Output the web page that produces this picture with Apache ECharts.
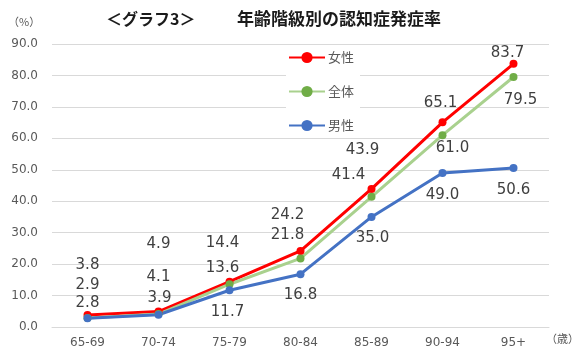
<!DOCTYPE html>
<html><head><meta charset="utf-8">
<script src="https://cdn.jsdelivr.net/npm/echarts@6/dist/echarts.min.js"></script>
<style>html,body{margin:0;padding:0;background:#fff}#c{width:583px;height:362px}</style>
</head><body><div id="c"></div>
<script>
const categories = ['65-69','70-74','75-79','80-84','85-89','90-94','95+'];
const female = [3.8, 4.9, 14.4, 24.2, 43.9, 65.1, 83.7];
const total = [2.9, 4.1, 13.6, 21.8, 41.4, 61.0, 79.5];
const male = [2.8, 3.9, 11.7, 16.8, 35.0, 49.0, 50.6];
const seriesNames = ['女性','全体','男性'];
const yTicks = [0,10,20,30,40,50,60,70,80,90];

// label offsets (styling)
const femaleOff = [[0,-50],[0,-67],[-7,-39],[-13,-36],[-9,-39],[-2,-19],[-6,-11]];
const totalOff = [[0,-33],[0,-37],[-7,-16],[-13,-23],[-23,-22],[10,13],[7,23]];
const maleOff = [[0,-15],[1,-17],[-2,22],[0,21],[1,21],[0,22],[0,22]];

const numFont = 'DejaVu Sans';
const jpFont = 'Noto Sans CJK JP';
function mk(vals, offs){
  return vals.map((v,i)=>({value:v, label:{offset:offs[i]}}));
}
function ser(name, vals, offs, lineColor, markColor){
  return {
    name, type:'line', data: mk(vals, offs),
    symbol:'circle', symbolSize:8,
    lineStyle:{color:lineColor, width:3},
    itemStyle:{color:markColor},
    label:{show:true, position:'inside', color:'#404040', fontSize:15, fontFamily:numFont,
      formatter:p=>p.value.toFixed(1)},
    z: 2
  };
}
const chart = echarts.init(document.getElementById('c'));
chart.setOption({
  animation:false,
  backgroundColor:'#fff',
  title:[
    {text:'＜グラフ3＞', left:101, top:6,
      textStyle:{fontFamily:jpFont, fontSize:16, fontWeight:'bold', color:'#1a1a1a'}},
    {text:'年齢階級別の認知症発症率', left:232, top:5,
      textStyle:{fontFamily:jpFont, fontSize:17, fontWeight:'bold', color:'#1a1a1a'}}
  ],
  grid:{left:52, right:34, top:44, bottom:35},
  legend:{orient:'vertical', left:286, top:49, itemGap:21, itemWidth:36, itemHeight:14,
    data:seriesNames, backgroundColor:'#fff', padding:[2,6,2,2],
    textStyle:{fontFamily:jpFont, fontSize:13, color:'#595959', padding:[0,0,0,-2]}},
  graphic:[
    {type:'text', left:8, top:16, style:{text:'（%）', fontSize:11, fill:'#595959', fontFamily:jpFont}},
    {type:'text', left:546, top:333, style:{text:'（歳）', fontSize:11, fill:'#595959', fontFamily:jpFont}}
  ],
  xAxis:{type:'category', data:categories, boundaryGap:true,
    axisLine:{lineStyle:{color:'#d9d9d9'}}, axisTick:{show:false},
    axisLabel:{color:'#595959', fontSize:12, fontFamily:numFont, margin:10}},
  yAxis:{type:'value', min:0, max:90, interval:10,
    axisLine:{show:false}, axisTick:{show:false},
    splitLine:{lineStyle:{color:'#d9d9d9', width:1}},
    axisLabel:{color:'#595959', fontSize:12, fontFamily:numFont, margin:14,
      formatter:v=>yTicks.includes(v)? v.toFixed(1):''}},
  series:[
    ser(seriesNames[0], female, femaleOff, '#FF0000', '#FF0000'),
    ser(seriesNames[1], total, totalOff, '#A9D18E', '#70AD47'),
    ser(seriesNames[2], male, maleOff, '#4472C4', '#4472C4')
  ]
});
</script></body></html>
